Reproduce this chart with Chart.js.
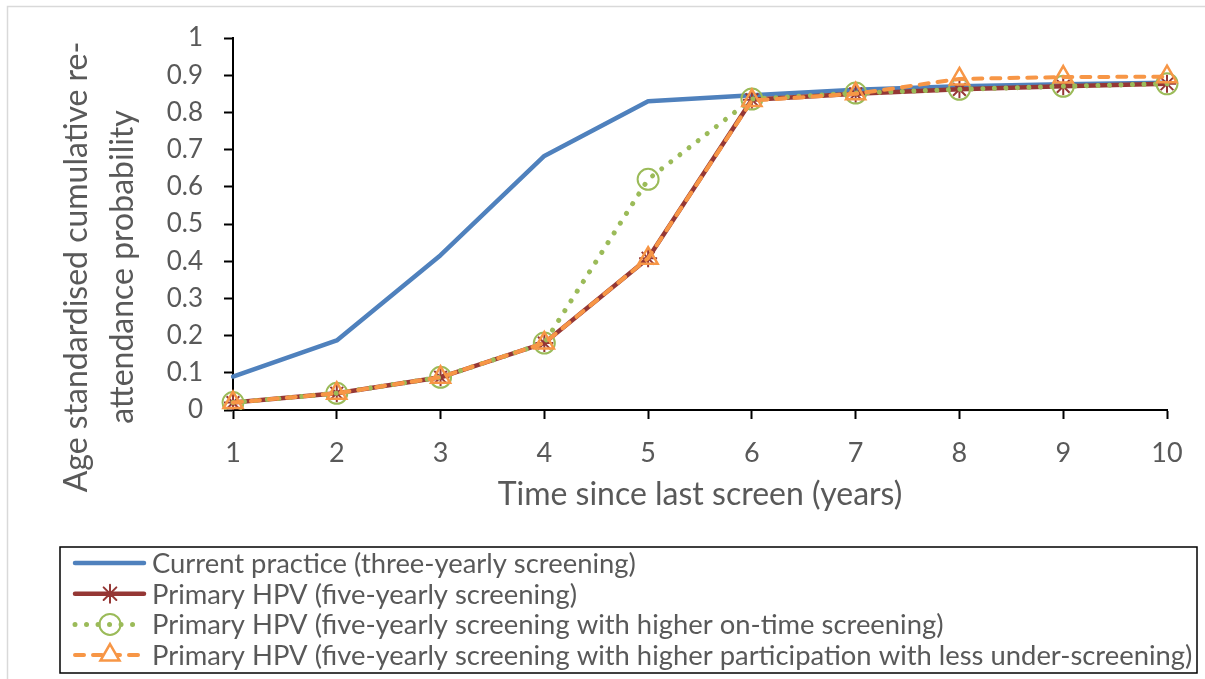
<!DOCTYPE html>
<html>
<head>
<meta charset="utf-8">
<script src="https://cdn.jsdelivr.net/npm/chart.js@4.4.1/dist/chart.umd.min.js"></script>
<style>
  html, body { margin: 0; padding: 0; background: #fff; }
  #wrap { width: 1205px; height: 679px; }
</style>
</head>
<body>
<div id="wrap"><canvas id="chart" width="1205" height="679"></canvas></div>
<script>
// --- Data ---
const years = ['1', '2', '3', '4', '5', '6', '7', '8', '9', '10'];
const yTickValues = [0, 0.1, 0.2, 0.3, 0.4, 0.5, 0.6, 0.7, 0.8, 0.9, 1];

const currentPractice = [0.09, 0.187, 0.416, 0.683, 0.83, 0.846, 0.861, 0.87, 0.876, 0.88];
const hpvFiveYearly = [0.02, 0.045, 0.088, 0.18, 0.408, 0.834, 0.85, 0.862, 0.87, 0.877];
const hpvOnTime = [0.02, 0.045, 0.088, 0.18, 0.62, 0.836, 0.852, 0.862, 0.87, 0.877];
const hpvParticipation = [0.02, 0.045, 0.088, 0.18, 0.408, 0.832, 0.85, 0.89, 0.895, 0.896];

const seriesNames = [
  'Current practice (three-yearly screening)',
  'Primary HPV (five-yearly screening)',
  'Primary HPV (five-yearly screening with higher on-time screening)',
  'Primary HPV (five-yearly screening with higher participation with less under-screening)'
];

const FONT = "Lato, 'Open Sans', sans-serif";
const TEXT = '#595959';

const el = id => document.getElementById(id);

// --- Plugins ---
// thin grey frame, only left and top edges are visible in the picture
const frame = {
  id: 'frame',
  beforeDraw(chart) {
    const ctx = chart.ctx;
    ctx.save();
    ctx.strokeStyle = '#d9d9d9';
    ctx.lineWidth = 1.5;
    ctx.beginPath();
    ctx.moveTo(7.5, chart.height);
    ctx.lineTo(7.5, 6.5);
    ctx.lineTo(chart.width, 6.5);
    ctx.stroke();
    ctx.restore();
  }
};

// two line rotated title, sits a bit lower than the axis centre
const yTitle = {
  id: 'yTitle',
  afterDraw(chart) {
    const ctx = chart.ctx;
    const lines = ['Age standardised cumulative re-', 'attendance probability'];
    ctx.save();
    ctx.fillStyle = TEXT;
    ctx.font = `32px ${FONT}`;
    ctx.textAlign = 'center';
    ctx.textBaseline = 'middle';
    lines.forEach((t, i) => {
      ctx.save();
      ctx.translate(77 + i * 46, 267);
      ctx.rotate(-Math.PI / 2);
      ctx.fillText(t, 0, 0);
      ctx.restore();
    });
    ctx.restore();
  }
};

// boxed legend, one row per series, line sample with marker
const boxLegend = {
  id: 'boxLegend',
  afterDraw(chart) {
    const ctx = chart.ctx;
    const left = 60, top = 547, right = 1197, bottom = 673;
    ctx.save();
    ctx.strokeStyle = '#000';
    ctx.lineWidth = 1.5;
    ctx.strokeRect(left, top, right - left, bottom - top);

    chart.data.datasets.forEach((ds, i) => {
      const y = top + 16 + i * 30.7;
      ctx.save();
      ctx.strokeStyle = ds.borderColor;
      ctx.lineWidth = ds.borderWidth;
      ctx.lineCap = ds.borderCapStyle || 'butt';
      ctx.setLineDash(ds.borderDash || []);
      ctx.beginPath();
      ctx.moveTo(75, y);
      ctx.lineTo(144, y);
      ctx.stroke();
      ctx.setLineDash([]);
      if (ds.pointRadius > 0) {
        ctx.strokeStyle = ds.pointBorderColor;
        ctx.fillStyle = ds.legendFill || 'rgba(0,0,0,0)';
        ctx.lineWidth = ds.pointBorderWidth;
        Chart.helpers.drawPoint(ctx, {
          pointStyle: ds.pointStyle,
          radius: ds.pointRadius,
          borderWidth: ds.pointBorderWidth,
          rotation: 0
        }, 110, y);
      }
      ctx.restore();

      ctx.fillStyle = TEXT;
      ctx.font = `27.4px ${FONT}`;
      ctx.textAlign = 'left';
      ctx.textBaseline = 'middle';
      ctx.fillText(ds.label, 152, y + 1);
    });
    ctx.restore();
  }
};

// --- Chart ---
const axisGrid = {
  display: true,
  drawOnChartArea: false,
  color: '#000',
  tickLength: 9,
  tickWidth: 2
};

new Chart(el('chart'), {
  type: 'line',
  data: {
    labels: years,
    datasets: [
      {
        label: seriesNames[0],
        data: currentPractice,
        borderColor: '#4F81BD',
        borderWidth: 4.5,
        borderCapStyle: 'round',
        borderJoinStyle: 'round',
        pointRadius: 0,
        order: 4
      },
      {
        label: seriesNames[1],
        data: hpvFiveYearly,
        borderColor: '#953735',
        borderWidth: 4.5,
        borderCapStyle: 'round',
        pointStyle: 'star',
        pointRadius: 9,
        pointBorderWidth: 2,
        pointBorderColor: '#953735',
        pointBackgroundColor: 'rgba(0,0,0,0)',
        order: 3
      },
      {
        label: seriesNames[2],
        data: hpvOnTime,
        borderColor: '#9BBB59',
        borderWidth: 5,
        borderDash: [0.01, 11.5],
        borderCapStyle: 'round',
        pointStyle: 'circle',
        pointRadius: 10.5,
        pointBorderWidth: 2,
        pointBorderColor: '#9BBB59',
        pointBackgroundColor: 'rgba(0,0,0,0)',
        order: 2
      },
      {
        label: seriesNames[3],
        data: hpvParticipation,
        borderColor: '#F79646',
        borderWidth: 4,
        borderDash: [9, 9],
        borderCapStyle: 'round',
        pointStyle: 'triangle',
        pointRadius: 11,
        pointBorderWidth: 2.5,
        pointBorderColor: '#F79646',
        pointBackgroundColor: 'rgba(0,0,0,0)',
        legendFill: '#fff',
        order: 1
      }
    ]
  },
  options: {
    responsive: false,
    animation: false,
    layout: { padding: { left: 0, top: 38, right: 38, bottom: 149 } },
    plugins: {
      legend: { display: false },
      tooltip: { enabled: false }
    },
    scales: {
      x: {
        grid: axisGrid,
        border: { color: '#000', width: 2 },
        ticks: {
          color: TEXT,
          font: { family: FONT, size: 27 },
          padding: 18,
          maxRotation: 0,
          autoSkip: false
        },
        title: {
          display: true,
          text: 'Time since last screen (years)',
          color: TEXT,
          font: { family: FONT, size: 32 },
          padding: { top: 0, bottom: 16 }
        },
        afterFit: s => { s.height = 120; }
      },
      y: {
        min: 0,
        max: 1,
        grid: axisGrid,
        border: { color: '#000', width: 2 },
        afterBuildTicks: s => { s.ticks = yTickValues.map(v => ({ value: v })); },
        ticks: {
          color: TEXT,
          font: { family: FONT, size: 26 },
          padding: 21,
          callback: v => String(Math.round(v * 10) / 10)
        },
        afterFit: s => { s.width = 233; }
      }
    }
  },
  plugins: [frame, yTitle, boxLegend]
});
</script>
</body>
</html>
